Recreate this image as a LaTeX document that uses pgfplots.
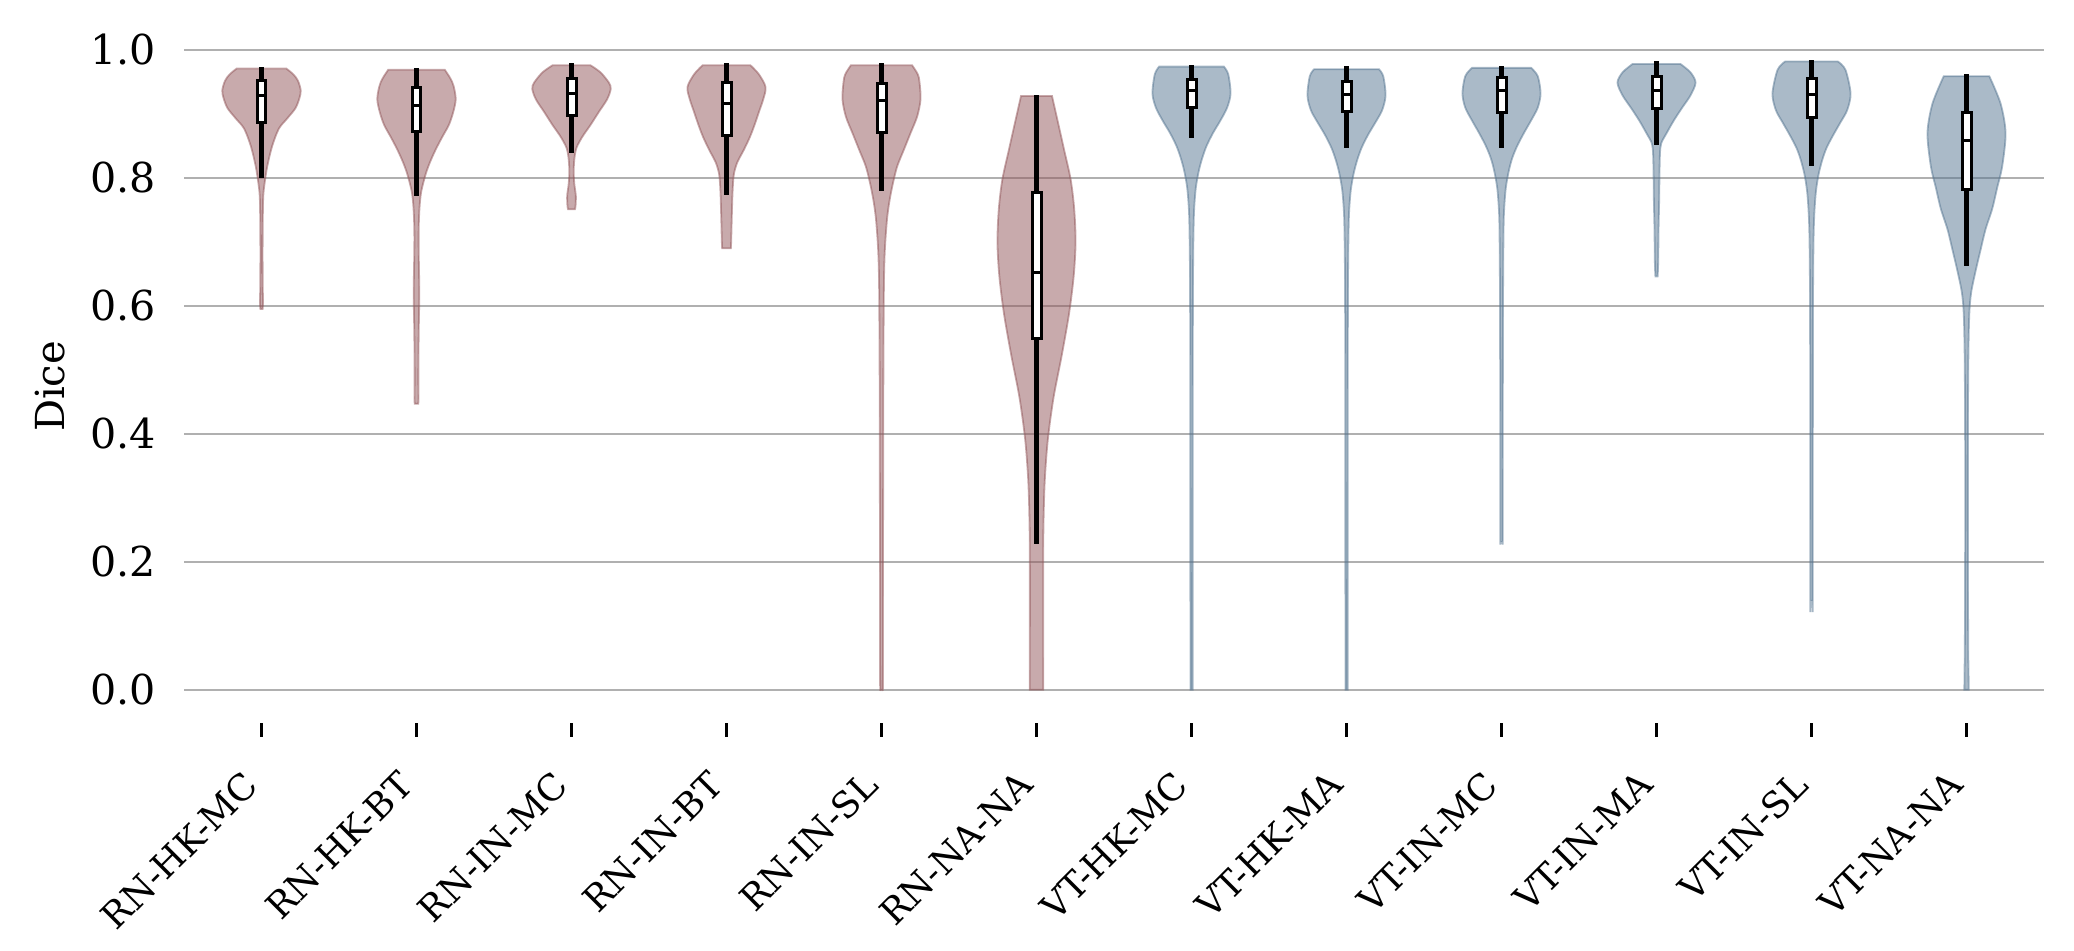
\documentclass[border=0pt]{standalone}
\usepackage{fontspec}
\setmainfont{DejaVu Serif}
\usepackage{pgfplots}
\usepackage{pgfplotstable}
\pgfplotsset{compat=1.18}
\usepgfplotslibrary{fillbetween,statistics}

\definecolor{vred}{RGB}{145,85,89}
\definecolor{vblue}{RGB}{85,117,145}
\definecolor{gridgray}{RGB}{176,176,176}

% violin outlines: y and half width (in category units)
\pgfplotstableread{
y w
0.595 0.007
0.605 0.010
0.630 0.008
0.680 0.007
0.730 0.008
0.770 0.011
0.790 0.019
0.818 0.037
0.850 0.069
0.877 0.112
0.893 0.166
0.909 0.219
0.925 0.245
0.937 0.253
0.952 0.235
0.962 0.205
0.971 0.160
}\vA
\pgfplotstableread{
y w
0.447 0.011
0.455 0.013
0.490 0.012
0.555 0.014
0.620 0.018
0.687 0.014
0.720 0.014
0.752 0.019
0.778 0.030
0.805 0.058
0.824 0.086
0.844 0.123
0.864 0.166
0.883 0.209
0.903 0.237
0.923 0.253
0.943 0.240
0.955 0.220
0.969 0.183
}\vB
\pgfplotstableread{
y w
0.751 0.022
0.756 0.026
0.772 0.028
0.791 0.018
0.811 0.014
0.831 0.019
0.847 0.032
0.864 0.069
0.883 0.123
0.903 0.176
0.923 0.230
0.939 0.253
0.949 0.241
0.965 0.187
0.976 0.123
}\vC
\pgfplotstableread{
y w
0.690 0.028
0.700 0.030
0.739 0.034
0.778 0.039
0.805 0.047
0.824 0.069
0.844 0.112
0.864 0.151
0.883 0.181
0.903 0.209
0.923 0.237
0.942 0.252
0.962 0.209
0.976 0.155
}\vD
\pgfplotstableread{
y w
0.000 0.008
0.020 0.009
0.228 0.010
0.490 0.012
0.621 0.015
0.673 0.019
0.706 0.026
0.739 0.037
0.765 0.052
0.791 0.073
0.818 0.101
0.844 0.144
0.870 0.187
0.896 0.230
0.923 0.252
0.950 0.245
0.962 0.234
0.976 0.198
}\vE
\pgfplotstableread{
y w
0.000 0.044
0.100 0.043
0.195 0.043
0.260 0.045
0.326 0.053
0.391 0.073
0.457 0.110
0.523 0.163
0.588 0.210
0.647 0.240
0.700 0.252
0.752 0.243
0.798 0.220
0.844 0.178
0.883 0.142
0.928 0.100
}\vF
\pgfplotstableread{
y w
0.000 0.007
0.490 0.008
0.654 0.010
0.719 0.013
0.752 0.017
0.785 0.028
0.811 0.047
0.831 0.069
0.850 0.097
0.870 0.138
0.890 0.187
0.910 0.230
0.932 0.252
0.962 0.237
0.974 0.209
}\vG
\pgfplotstableread{
y w
0.000 0.007
0.490 0.008
0.650 0.010
0.716 0.013
0.749 0.017
0.782 0.028
0.808 0.047
0.828 0.069
0.847 0.097
0.867 0.138
0.887 0.187
0.906 0.230
0.929 0.252
0.959 0.237
0.970 0.209
}\vH
\pgfplotstableread{
y w
0.231 0.007
0.240 0.008
0.400 0.008
0.621 0.010
0.719 0.013
0.752 0.017
0.785 0.028
0.811 0.047
0.831 0.069
0.850 0.101
0.870 0.144
0.890 0.191
0.910 0.234
0.932 0.252
0.959 0.234
0.972 0.191
}\vI
\pgfplotstableread{
y w
0.646 0.007
0.655 0.009
0.673 0.011
0.719 0.013
0.765 0.017
0.805 0.019
0.837 0.022
0.854 0.030
0.870 0.065
0.890 0.112
0.910 0.166
0.929 0.219
0.949 0.252
0.965 0.219
0.978 0.155
}\vJ
\pgfplotstableread{
y w
0.139 0.007
0.150 0.008
0.555 0.009
0.687 0.012
0.739 0.017
0.778 0.028
0.805 0.045
0.828 0.069
0.847 0.097
0.867 0.140
0.887 0.187
0.906 0.230
0.932 0.252
0.969 0.219
0.982 0.170
}\vK
\pgfplotstableread{
y w
0.000 0.014
0.030 0.013
0.064 0.011
0.200 0.009
0.400 0.009
0.523 0.012
0.588 0.018
0.621 0.030
0.654 0.058
0.687 0.090
0.720 0.123
0.752 0.166
0.785 0.198
0.818 0.230
0.870 0.252
0.916 0.220
0.959 0.147
}\vL

% #1 position, #2 table, #3 colour
\newcommand\violin[3]{%
  \addplot[draw=none, smooth, tension=0.5, name path=R#1, forget plot]
    table[x expr=#1+\thisrow{w}, y=y] {#2};
  \addplot[draw=none, smooth, tension=0.5, name path=L#1, forget plot]
    table[x expr=#1-\thisrow{w}, y=y] {#2};
  \addplot[fill=#3, fill opacity=0.5, draw=#3, draw opacity=0.5, line width=0.45pt]
    fill between[of=R#1 and L#1, reverse=true];
}
% #1 position, then lower whisker, lower quartile, median, upper quartile, upper whisker
\newcommand\innerbox[6]{%
  \addplot[black, line width=1.05pt, forget plot,
    boxplot/draw direction=y,
    boxplot/every box/.style={fill=white, line width=0.75pt},
    boxplot/every median/.style={line width=0.75pt},
    boxplot prepared={draw position=#1, lower whisker=#2, lower quartile=#3,
      median=#4, upper quartile=#5, upper whisker=#6,
      box extend=0.058, whisker extend=0}]
    coordinates {};
}

\begin{document}
\begin{tikzpicture}
\begin{axis}[
  name=ax,
  scale only axis,
  width=465pt, height=168.25pt,
  xmin=-0.5, xmax=11.5,
  ymin=-0.052, ymax=1.0,
  clip=false,
  axis x line=bottom, axis y line=left,
  x axis line style={draw=none},
  y axis line style={draw=none},
  xtick={0,...,11},
  xticklabels={RN-HK-MC,RN-HK-BT,RN-IN-MC,RN-IN-BT,RN-IN-SL,RN-NA-NA,
    VT-HK-MC,VT-HK-MA,VT-IN-MC,VT-IN-MA,VT-IN-SL,VT-NA-NA},
  xtick style={black, line width=0.75pt},
  tick align=outside,
  major tick length=3.5pt,
  ytick={0,0.2,0.4,0.6,0.8,1.0},
  ytick style={draw=none},
  yticklabel style={/pgf/number format/fixed, /pgf/number format/fixed zerofill,
    /pgf/number format/precision=1, font=\fontsize{10.3}{12}\selectfont},
  /pgf/number format/assume math mode=true,
  ymajorgrids,
  grid style={gridgray, line width=0.4pt},
  xticklabel style={xshift=-5pt, yshift=-3pt, rotate=45, anchor=north east,
    font=\fontsize{9}{11}\selectfont},
  ylabel={Dice},
  ylabel style={at={(axis description cs:-0.072,0.5)}, anchor=center,
    font=\fontsize{10}{12}\selectfont},
]
\violin{0}{\vA}{vred}
\violin{1}{\vB}{vred}
\violin{2}{\vC}{vred}
\violin{3}{\vD}{vred}
\violin{4}{\vE}{vred}
\violin{5}{\vF}{vred}
\violin{6}{\vG}{vblue}
\violin{7}{\vH}{vblue}
\violin{8}{\vI}{vblue}
\violin{9}{\vJ}{vblue}
\violin{10}{\vK}{vblue}
\violin{11}{\vL}{vblue}

\innerbox{0}{0.800}{0.887}{0.929}{0.952}{0.974}
\innerbox{1}{0.772}{0.873}{0.913}{0.942}{0.972}
\innerbox{2}{0.839}{0.898}{0.932}{0.955}{0.980}
\innerbox{3}{0.774}{0.867}{0.916}{0.949}{0.980}
\innerbox{4}{0.780}{0.871}{0.921}{0.947}{0.980}
\innerbox{5}{0.228}{0.549}{0.652}{0.777}{0.929}
\innerbox{6}{0.862}{0.910}{0.937}{0.954}{0.977}
\innerbox{7}{0.847}{0.904}{0.930}{0.951}{0.975}
\innerbox{8}{0.847}{0.902}{0.936}{0.957}{0.975}
\innerbox{9}{0.852}{0.908}{0.936}{0.959}{0.982}
\innerbox{10}{0.818}{0.895}{0.930}{0.955}{0.985}
\innerbox{11}{0.662}{0.782}{0.859}{0.902}{0.962}
\end{axis}
\path ([xshift=-46pt,yshift=-53.75pt]ax.south west)
  rectangle ([xshift=7.5pt,yshift=12.5pt]ax.north east);
\end{tikzpicture}
\end{document}
